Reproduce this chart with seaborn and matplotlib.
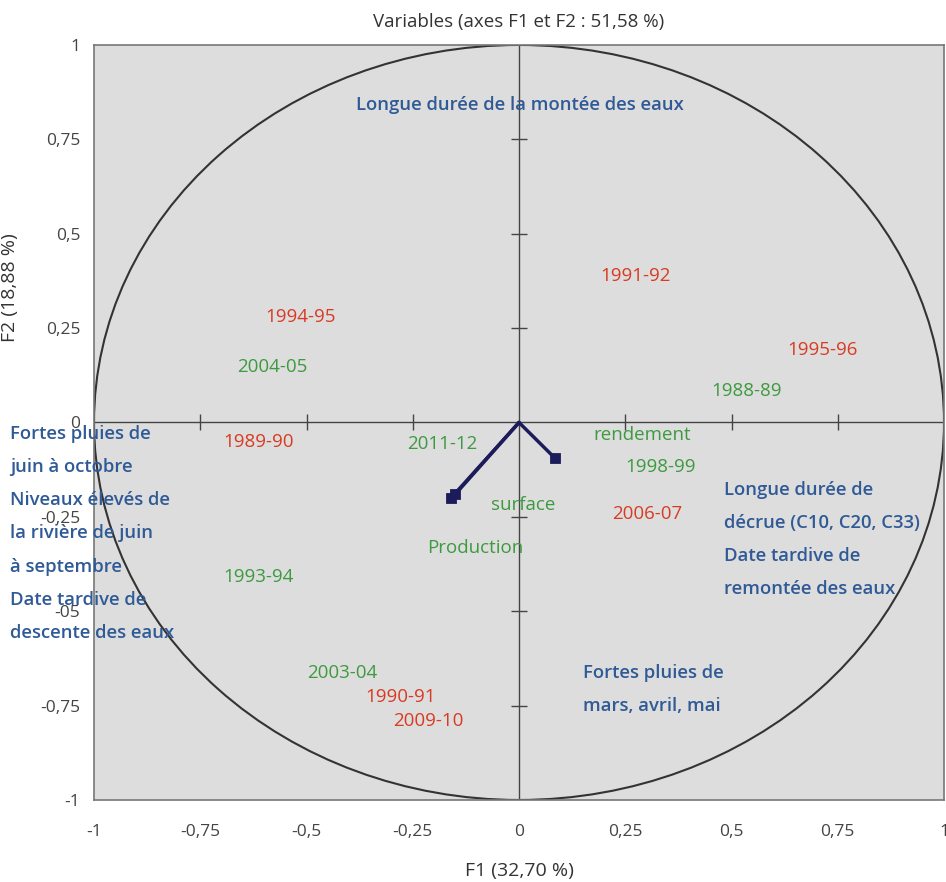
import numpy as np
import pandas as pd
import matplotlib
matplotlib.use("Agg")
import matplotlib.pyplot as plt
import seaborn as sns
from matplotlib.patches import Circle

# variables (vectors)
var_names = ["Production", "surface", "rendement"]
var_f1 = [-0.16, -0.15, 0.085]
var_f2 = [-0.20, -0.19, -0.095]

# years (observations) : label, F1, F2, group
year_labels = ["1991-92", "1994-95", "1995-96", "1989-90", "2006-07", "1990-91", "2009-10",
               "2004-05", "1988-89", "2011-12", "1998-99", "1993-94", "2003-04",
               "rendement", "surface", "Production"]
year_f1 = [0.275, -0.515, 0.713, -0.612, 0.301, -0.278, -0.214,
           -0.581, 0.536, -0.181, 0.334, -0.612, -0.416,
           0.289, 0.009, -0.104]
year_f2 = [0.388, 0.279, 0.192, -0.052, -0.242, -0.727, -0.791,
           0.147, 0.083, -0.057, -0.118, -0.409, -0.664,
           -0.033, -0.219, -0.332]
year_group = ["rouge"] * 7 + ["vert"] * 9

ticks = [-1, -0.75, -0.5, -0.25, 0, 0.25, 0.5, 0.75, 1]
xtick_labels = ["-1", "-0,75", "-0,5", "-0,25", "0", "0,25", "0,5", "0,75", "1"]
ytick_labels = ["-1", "-0,75", "-05", "-0,25", "0", "0,25", "0,5", "0,75", "1"]

df = pd.DataFrame({"label": year_labels, "F1": year_f1, "F2": year_f2, "groupe": year_group})
palette = {"rouge": "#d83b22", "vert": "#3d9a3f"}
blue = "#2f5a96"

sns.set_theme(style="white")
plt.rcParams["font.family"] = ["Open Sans", "DejaVu Sans"]

fig = plt.figure(figsize=(9.46, 8.82), dpi=100)
ax = fig.add_axes([0.0994, 0.093, 0.8985, 0.856])
ax.set_facecolor("#dddddd")
ax.set_xlim(-1, 1)
ax.set_ylim(-1, 1)
for s in ax.spines.values():
    s.set_color("#777777")
    s.set_linewidth(1.2)

ax.set_xticks(ticks)
ax.set_xticklabels(xtick_labels)
ax.set_yticks(ticks)
ax.set_yticklabels(ytick_labels)
ax.tick_params(length=0, labelsize=12.5, colors="#444444", pad=17)
ax.tick_params(axis="y", pad=10)

# central axes with tick marks
ax.axhline(0, color="#444444", lw=1)
ax.axvline(0, color="#444444", lw=1)
inner = [t for t in ticks if t not in (-1, 0, 1)]
ax.scatter(inner, [0] * len(inner), marker="|", s=120, color="#444444", lw=1)
ax.scatter([0] * len(inner), inner, marker="_", s=120, color="#444444", lw=1)

# correlation circle
ax.add_patch(Circle((0, 0), 1, fill=False, color="#333333", lw=1.5))

# vectors
for x, y in zip(var_f1, var_f2):
    ax.plot([0, x], [0, y], color="#1c1c5a", lw=2.5)
vdf = pd.DataFrame({"F1": var_f1, "F2": var_f2})
sns.scatterplot(data=vdf, x="F1", y="F2", marker="s", s=55, color="#1c1c5a",
                edgecolor="#1c1c5a", ax=ax, zorder=5)

# labels
for _, r in df.iterrows():
    ax.text(r["F1"], r["F2"], r["label"], color=palette[r["groupe"]],
            ha="center", va="center", fontsize=13.5)

bfont = dict(color=blue, fontsize=13.3, fontweight="semibold", va="center")
ax.text(0.002, 0.841, "Longue durée de la montée des eaux", ha="center", **bfont)

left_lines = ["Fortes pluies de", "juin à octobre", "Niveaux élevés de",
              "la rivière de juin", "à septembre", "Date tardive de", "descente des eaux"]
for i, t in enumerate(left_lines):
    ax.text(-1.198, -0.030 - i * 0.088, t, ha="left", clip_on=False, **bfont)

right_lines = ["Longue durée de", "décrue (C10, C20, C33)", "Date tardive de",
               "remontée des eaux"]
for i, t in enumerate(right_lines):
    ax.text(0.482, -0.179 - i * 0.087, t, ha="left", **bfont)

bottom_lines = ["Fortes pluies de", "mars, avril, mai"]
for i, t in enumerate(bottom_lines):
    ax.text(0.151, -0.664 - i * 0.087, t, ha="left", **bfont)

ax.set_title("Variables (axes F1 et F2 : 51,58 %)", fontsize=13.5, color="#333333", pad=13)
ax.set_xlabel("F1 (32,70 %)", fontsize=14, color="#333333", labelpad=16)
ax.set_ylabel("F2 (18,88 %)", fontsize=14, color="#333333")
ax.yaxis.set_label_coords(-0.088, 0.678)

fig.savefig("out.png", dpi=100)
